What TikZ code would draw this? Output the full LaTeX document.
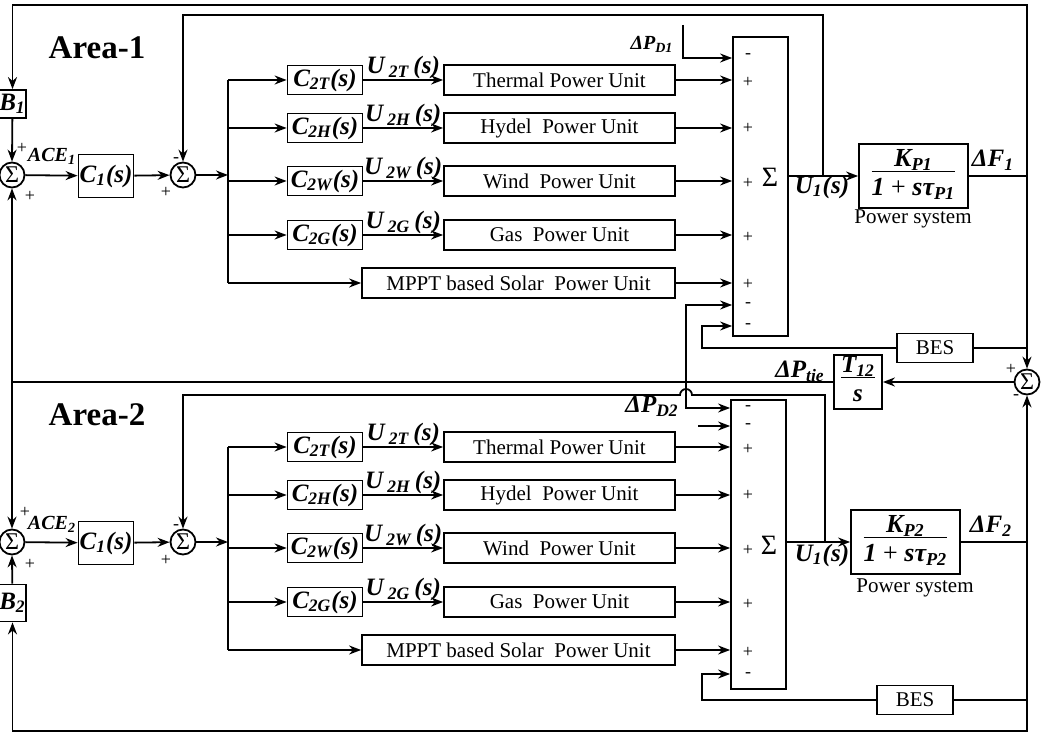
\documentclass[tikz,border=0pt]{standalone}
\usepackage{fontspec}
\setmainfont{Liberation Serif}
\usetikzlibrary{arrows.meta,positioning}

\newcommand{\bfit}{\fontsize{12.5}{13}\selectfont\bfseries\itshape}
\newcommand{\unitfont}{\fontsize{10.5}{12}\selectfont}
\newcommand{\frc}[2]{\begin{tabular}{@{}c@{}}#1\\[-2pt]\hline\rule{0pt}{12pt}#2\end{tabular}}

\begin{document}
\begin{tikzpicture}[x=0.5pt,y=-0.5pt,line width=0.9pt,>={Stealth[length=6pt,width=4.5pt]},
	blk/.style={draw,inner sep=0pt},
	cbox/.style={blk,minimum width=37.5pt,minimum height=14.5pt,font=\bfit},
	ubox/.style={blk,minimum width=115.5pt,minimum height=15pt,font=\unitfont},
	sumc/.style={draw,circle,inner sep=0pt,minimum size=12.5pt,font=\fontsize{12}{12}\selectfont},
	sgn/.style={inner sep=0pt,font=\fontsize{9}{9}\selectfont},
	lbl/.style={inner sep=1pt,font=\bfit}]
	\useasboundingbox (0,0) rectangle (1044,732);

	\node[font=\fontsize{16.5}{18}\selectfont\bfseries] (ar1) at (97,48) {Area-1};
	\node[font=\fontsize{16.5}{18}\selectfont\bfseries] (ar2) at (97,415) {Area-2};

	% summing blocks of the units
	\node[blk,minimum width=27.5pt,minimum height=149.5pt] (sg1) at (760.5,186.5) {};
	\node[blk,minimum width=27.5pt,minimum height=144.5pt] (sg2) at (758.5,544.5) {};

	% controller and unit rows, same for both areas
	\foreach \a/\dy in {1/0,2/367}{
		\node[sumc] (sa\a) at (12,\dy+175) {Σ};
		\node[blk,minimum width=27.5pt,minimum height=21.5pt,font=\bfit] (ca\a) at (106,\dy+176) {C\textsubscript{1}(s)};
		\node[sumc] (sb\a) at (183,\dy+175) {Σ};
		\coordinate (bus\a) at (228,\dy+175);
		\draw[->] (sa\a) -- (ca\a);
		\draw[->] (ca\a) -- (sb\a);
		\draw[->] (sb\a) -- (bus\a);
		\foreach \k/\yy/\txt in {T/80/Thermal Power Unit,H/128/Hydel\ \ Power Unit,W/181/Wind\ \ Power Unit,G/235/Gas\ \ Power Unit}{
			\node[cbox] (c\k\a) at (325,\dy+\yy) {C\textsubscript{2\k}(s)};
			\node[ubox] (u\k\a) at (559.5,\dy+\yy) {\txt};
			\draw[->] (bus\a |- c\k\a) -- (c\k\a);
			\draw[->] (c\k\a) -- node[lbl,above,yshift=-1pt]{U\,\textsubscript{2\k}\,(s)} (u\k\a);
			\draw[->] (u\k\a) -- (u\k\a -| sg\a.west);
		}
		\node[blk,minimum width=156.5pt,minimum height=15pt,font=\unitfont] (mp\a) at (518.5,\dy+283) {MPPT based Solar\ \ Power Unit};
		\draw (bus\a |- cT\a) -- (bus\a |- mp\a);
		\draw[->] (bus\a |- mp\a) -- (mp\a);
		\draw[->] (mp\a) -- (mp\a -| sg\a.west);
	}

	% signs and labels
	\node[font=\fontsize{10}{10}\selectfont\bfseries\itshape] at (52,156) {ACE\textsubscript{1}};
	\node[font=\fontsize{10}{10}\selectfont\bfseries\itshape] at (52,524) {ACE\textsubscript{2}};
	\node[sgn] at (22,148) {+};
	\node[sgn] at (30,196) {+};
	\node[sgn] at (176,160) {-};
	\node[sgn] at (166,192) {+};
	\node[sgn] at (25,512) {+};
	\node[sgn] at (30,564) {+};
	\node[sgn] at (176,527) {-};
	\node[sgn] at (166,560) {+};
	\foreach \yy/\s in {56/-,82/+,128/+,183/+,237/+,284/+,305/-,326/-,408/-,426/-,449/+,495/+,550/+,604/+,652/+,675/-}
		\node[sgn] at (748,\yy) {\s};
	\node[font=\fontsize{14}{14}\selectfont] at (770,177) {Σ};
	\node[font=\fontsize{14}{14}\selectfont] at (769,545) {Σ};

	% B blocks
	\node[blk,minimum width=12.5pt,minimum height=14pt,font=\bfit] (bb1) at (12.5,104) {B\textsubscript{1}};
	\node[blk,minimum width=12.5pt,minimum height=18.5pt,font=\bfit] (bb2) at (12.5,603) {B\textsubscript{2}};
	\draw[->] (bb1) -- (sa1.north);
	\draw[->] (bb2) -- (sa2.south);

	% power systems
	\node[blk,minimum width=54.5pt,minimum height=32pt,font=\fontsize{13}{13}\selectfont\bfseries\itshape] (ps1) at (913.5,176) {\frc{K\textsubscript{P1}}{1 {\normalfont+} sτ\textsubscript{P1}}};
	\node[blk,minimum width=54.5pt,minimum height=32pt,font=\fontsize{13}{13}\selectfont\bfseries\itshape] (ps2) at (905.5,542) {\frc{K\textsubscript{P2}}{1 {\normalfont+} sτ\textsubscript{P2}}};
	\node[font=\unitfont] at (913,219) {Power system};
	\node[font=\unitfont] at (915,588) {Power system};
	\draw[->] (sg1.east |- ps1.west) -- (ps1.west);
	\draw[->] (sg2.east |- ps2.west) -- (ps2.west);
	\node[lbl] at (822,187) {U\textsubscript{1}(s)};
	\node[lbl] at (822,555) {U\textsubscript{1}(s)};
	\node[lbl] at (993,160) {ΔF\textsubscript{1}};
	\node[lbl] at (991,526) {ΔF\textsubscript{2}};

	% U1 feedback
	\coordinate (fb1) at (823,176);
	\coordinate (fb2) at (825,542);
	\draw[->] (fb1) -- (823,15) -| (sb1.north);
	\draw[->] (fb2) -- (825,395) -- (692,395) arc[start angle=0,end angle=-180,radius=6] -| (sb2.north);

	% frequency deviation loops
	\coordinate (jf1) at (1027,176);
	\coordinate (jf2) at (1027,542);
	\draw (ps1) -- (jf1);
	\draw (ps2) -- (jf2);
	\draw[->] (jf1) -- (1027,5) -| (bb1.north);
	\draw[->] (jf2) -- (1027,731) -| (bb2.south);

	% tie line
	\node[sumc] (ts) at (1027,382) {Σ};
	\node[sgn] at (1011,369) {+};
	\node[sgn] at (1016,397) {-};
	\draw[->] (jf1) -- (ts.north);
	\draw[->] (jf2) -- (ts.south);
	\node[blk,minimum width=24pt,minimum height=26.5pt,font=\bfit] (tt) at (858,382) {\frc{T\textsubscript{12}}{s}};
	\draw[->] (ts) -- (tt);
	\node[lbl] at (800,371) {ΔP\textsubscript{tie}};
	\coordinate (tl) at (12,382);
	\coordinate (tj) at (686,382);
	\draw (tt) -- (tl);
	\draw[->] (tl) -- (sa1.south);
	\draw[->] (tl) -- (sa2.north);
	\draw[->] (tj) |- (sg1.west |- 0,305);
	\draw[->] (tj) |- (sg2.west |- 0,408);

	% load disturbances
	\coordinate (pd1) at (683,25);
	\draw[->] (pd1) |- (sg1.west |- 0,58);
	\node[font=\fontsize{10}{10}\selectfont\bfseries\itshape] at (652,44) {ΔP\textsubscript{D1}};
	\coordinate (pd2) at (698,426);
	\draw[->] (pd2) -- (sg2.west |- pd2);
	\node[lbl] at (652,406) {ΔP\textsubscript{D2}};

	% batteries
	\node[blk,minimum width=38pt,minimum height=14.5pt,font=\unitfont] (bes1) at (935,348) {BES};
	\node[blk,minimum width=38pt,minimum height=14.5pt,font=\unitfont] (bes2) at (915,700) {BES};
	\draw (jf1 |- bes1) -- (bes1);
	\draw (jf2 |- bes2) -- (bes2);
	\draw[->] (bes1.west) -| (702,326) -- (sg1.west |- 0,326);
	\draw[->] (bes2.west) -| (702,674) -- (sg2.west |- 0,674);
\end{tikzpicture}
\end{document}
